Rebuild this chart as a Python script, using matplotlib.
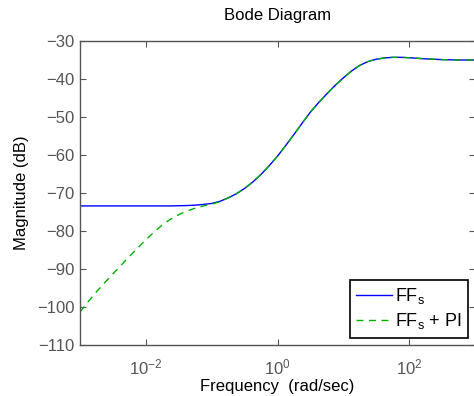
import numpy as np
import matplotlib
matplotlib.use("Agg")
import matplotlib.pyplot as plt

plt.rcParams['font.family'] = ['Liberation Sans', 'DejaVu Sans']
plt.rcParams['mathtext.fontset'] = 'custom'
plt.rcParams['mathtext.rm'] = 'Liberation Sans'
plt.rcParams['mathtext.it'] = 'Liberation Sans'

# log10 of frequency (rad/sec), sampled every 1/8 decade from 1e-3 to 1e3
log_w = np.arange(-3.0, 3.0001, 0.125)

# FF_s magnitude (dB)
mag_ff = [-73.4, -73.4, -73.4, -73.4, -73.4, -73.4, -73.4, -73.4, -73.4, -73.4, -73.4, -73.4,
          -73.35, -73.3, -73.2, -73.0, -72.75, -72.2, -71.3, -70.2, -68.8, -67.1, -65.1, -62.8,
          -60.3, -57.5, -54.6, -51.6, -48.7, -46.2, -43.9, -41.7, -39.7, -37.9, -36.4, -35.4,
          -34.8, -34.45, -34.3, -34.3, -34.4, -34.55, -34.7, -34.8, -34.9, -34.95, -35.0, -35.0,
          -35.0]

# FF_s + PI magnitude (dB)
mag_ffpi = [-101.3, -98.6, -96.0, -93.6, -91.3, -89.0, -86.7, -84.5, -82.3, -80.3, -78.4, -76.9,
            -75.7, -74.7, -74.0, -73.4, -72.95, -72.3, -71.3, -70.2, -68.8, -67.1, -65.1, -62.8,
            -60.3, -57.5, -54.6, -51.6, -48.7, -46.2, -43.9, -41.7, -39.7, -37.9, -36.4, -35.4,
            -34.8, -34.45, -34.3, -34.3, -34.4, -34.55, -34.7, -34.8, -34.9, -34.95, -35.0, -35.0,
            -35.0]

w = 10.0 ** log_w

fig = plt.figure(figsize=(4.74, 3.96), dpi=100)
ax = fig.add_axes([80 / 474, 51 / 396, 395 / 474, 304 / 396])

ax.semilogx(w, mag_ff, color='#0000ff', lw=1.0, label='FF$_\\mathregular{s}$')
ax.semilogx(w, mag_ffpi, color='#00b000', lw=1.0, ls=(0, (5, 4)), label='FF$_\\mathregular{s}$ + PI')

ax.set_xlim(1e-3, 1e3)
ax.set_ylim(-110, -30)
ax.set_xticks([1e-2, 1e0, 1e2])
ax.minorticks_off()
ax.set_yticks(np.arange(-110, -29, 10))

gray = '#555555'
for s in ax.spines.values():
    s.set_color(gray)
    s.set_linewidth(1.0)
ax.tick_params(direction='in', length=4, width=0.8, color=gray, labelcolor=gray,
               labelsize=12, top=True, right=True, pad=4)
ax.tick_params(axis='x', pad=9)

ax.set_title('Bode Diagram', fontsize=12, pad=15)
ax.set_ylabel('Magnitude (dB)', fontsize=12, labelpad=6)
ax.set_xlabel('Frequency  (rad/sec)', fontsize=12, labelpad=1.5)

leg = ax.legend(loc='lower right', fontsize=13, frameon=True, fancybox=False,
                edgecolor='black', framealpha=1, handlelength=2.0, handletextpad=0.15,
                labelspacing=0.3, borderpad=0.35, borderaxespad=0.4)
leg.get_frame().set_linewidth(1.2)

fig.savefig('out.png', dpi=100)
